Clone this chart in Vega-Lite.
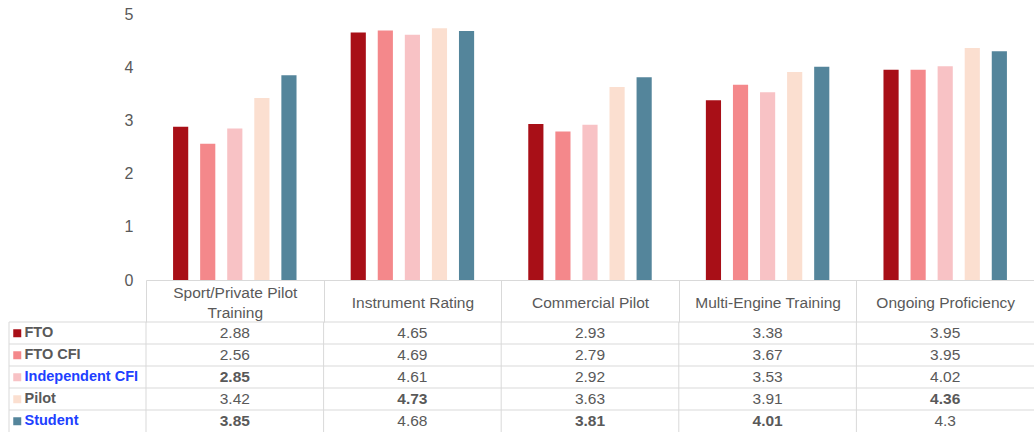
{
  "$schema": "https://vega.github.io/schema/vega-lite/v6.json",
  "padding": {"left": 8, "top": 6, "right": 0, "bottom": 0},
  "autosize": {"type": "pad"},
  "background": "white",
  "config": {"view": {"stroke": null}, "font": "Liberation Sans"},
  "data": {"values": [
    {"category": "Sport/Private Pilot Training", "series": "FTO", "score": 2.88},
    {"category": "Sport/Private Pilot Training", "series": "FTO CFI", "score": 2.56},
    {"category": "Sport/Private Pilot Training", "series": "Independent CFI", "score": 2.85},
    {"category": "Sport/Private Pilot Training", "series": "Pilot", "score": 3.42},
    {"category": "Sport/Private Pilot Training", "series": "Student", "score": 3.85},
    {"category": "Instrument Rating", "series": "FTO", "score": 4.65},
    {"category": "Instrument Rating", "series": "FTO CFI", "score": 4.69},
    {"category": "Instrument Rating", "series": "Independent CFI", "score": 4.61},
    {"category": "Instrument Rating", "series": "Pilot", "score": 4.73},
    {"category": "Instrument Rating", "series": "Student", "score": 4.68},
    {"category": "Commercial Pilot", "series": "FTO", "score": 2.93},
    {"category": "Commercial Pilot", "series": "FTO CFI", "score": 2.79},
    {"category": "Commercial Pilot", "series": "Independent CFI", "score": 2.92},
    {"category": "Commercial Pilot", "series": "Pilot", "score": 3.63},
    {"category": "Commercial Pilot", "series": "Student", "score": 3.81},
    {"category": "Multi-Engine Training", "series": "FTO", "score": 3.38},
    {"category": "Multi-Engine Training", "series": "FTO CFI", "score": 3.67},
    {"category": "Multi-Engine Training", "series": "Independent CFI", "score": 3.53},
    {"category": "Multi-Engine Training", "series": "Pilot", "score": 3.91},
    {"category": "Multi-Engine Training", "series": "Student", "score": 4.01},
    {"category": "Ongoing Proficiency", "series": "FTO", "score": 3.95},
    {"category": "Ongoing Proficiency", "series": "FTO CFI", "score": 3.95},
    {"category": "Ongoing Proficiency", "series": "Independent CFI", "score": 4.02},
    {"category": "Ongoing Proficiency", "series": "Pilot", "score": 4.36},
    {"category": "Ongoing Proficiency", "series": "Student", "score": 4.3}
  ]},
  "columns": 2,
  "spacing": {"row": 42, "column": 0},
  "align": "each",
  "bounds": "flush",
  "concat": [
    {
      "width": 137,
      "height": 266,
      "transform": [{"filter": "false"}],
      "mark": "point"
    },
    {
      "width": 888,
      "height": 266,
      "mark": {"type": "bar"},
      "encoding": {
        "x": {
          "field": "category", "type": "nominal",
          "sort": ["Sport/Private Pilot Training", "Instrument Rating", "Commercial Pilot", "Multi-Engine Training", "Ongoing Proficiency"],
          "scale": {"paddingInner": 0, "paddingOuter": 0},
          "axis": {
            "title": null, "labelAngle": 0, "domainColor": "#d9d9d9", "tickColor": "#d9d9d9",
            "tickBand": "extent", "tickSize": 42,
            "labelPadding": {"condition": {"test": "datum.value == 'Sport/Private Pilot Training'", "value": -30}, "value": -20},
            "labelBaseline": "middle",
            "labelFontSize": 15.5, "labelColor": "#595959", "labelLineHeight": 20, "labelLimit": 0,
            "labelOverlap": false, "labelBound": false,
            "labelExpr": "datum.label == 'Sport/Private Pilot Training' ? ['Sport/Private Pilot', 'Training'] : datum.label"
          }
        },
        "xOffset": {
          "field": "series", "type": "nominal",
          "sort": ["FTO", "FTO CFI", "Independent CFI", "Pilot", "Student"],
          "scale": {"paddingInner": 0.44, "paddingOuter": 1.04}
        },
        "y": {
          "field": "score", "type": "quantitative",
          "scale": {"domain": [0, 5]},
          "axis": {"title": null, "values": [0, 1, 2, 3, 4, 5], "grid": false, "domain": false, "ticks": false,
                   "labelPadding": 13, "labelFontSize": 16, "labelColor": "#595959"}
        },
        "color": {
          "field": "series", "type": "nominal",
          "scale": {
            "domain": ["FTO", "FTO CFI", "Independent CFI", "Pilot", "Student"],
            "range": ["#a80f17", "#f4888b", "#f8c2c5", "#fbdfd0", "#54859b"]
          },
          "legend": {
            "orient": "none", "legendX": 1, "legendY": 312, "title": null,
            "symbolType": "square", "symbolSize": 64, "symbolStrokeWidth": 0, "symbolOpacity": 1,
            "labelFontSize": 14.5, "labelFontWeight": "bold", "labelColor": "#595959", "labelOffset": 0,
            "rowPadding": 7, "padding": 0, "labelLimit": 0,
            "encode": {"labels": {"update": {"fill": {"signal": "datum.label === 'Independent CFI' || datum.label === 'Student' ? '#2040ff' : '#595959'"}}}}
          }
        }
      }
    },
    {
      "width": 137,
      "height": 110,
      "layer": [
        {
          "transform": [{"filter": "datum.category === 'Sport/Private Pilot Training'"}],
          "mark": {"type": "rule", "color": "#d9d9d9", "strokeWidth": 1},
          "encoding": {
            "y": {"field": "series", "type": "nominal", "sort": ["FTO", "FTO CFI", "Independent CFI", "Pilot", "Student"],
                  "bandPosition": 0, "scale": {"paddingInner": 0, "paddingOuter": 0}, "axis": null}
          }
        },
        {
          "transform": [{"filter": "datum.category === 'Sport/Private Pilot Training' && datum.series === 'FTO'"}],
          "mark": {"type": "rule", "color": "#d9d9d9", "strokeWidth": 1},
          "encoding": {
            "x": {"datum": 0, "type": "quantitative", "scale": {"domain": [0, 1]}, "axis": null}
          }
        }
      ]
    },
    {
      "width": 888,
      "height": 110,
      "layer": [
        {
          "transform": [{"filter": "datum.category === 'Sport/Private Pilot Training'"}],
          "mark": {"type": "rule", "color": "#d9d9d9", "strokeWidth": 1},
          "encoding": {
            "y": {"field": "series", "type": "nominal", "sort": ["FTO", "FTO CFI", "Independent CFI", "Pilot", "Student"],
                  "bandPosition": 0, "scale": {"paddingInner": 0, "paddingOuter": 0}, "axis": null}
          }
        },
        {
          "transform": [{"filter": "datum.series === 'FTO'"}],
          "mark": {"type": "rule", "color": "#d9d9d9", "strokeWidth": 1},
          "encoding": {
            "x": {"field": "category", "type": "nominal",
                  "sort": ["Sport/Private Pilot Training", "Instrument Rating", "Commercial Pilot", "Multi-Engine Training", "Ongoing Proficiency"],
                  "bandPosition": 0, "scale": {"paddingInner": 0, "paddingOuter": 0}, "axis": null}
          }
        },
        {
          "transform": [{"joinaggregate": [{"op": "max", "field": "score", "as": "colMax"}], "groupby": ["category"]}],
          "mark": {
            "type": "text", "fontSize": 15.5, "color": "#595959", "baseline": "middle", "align": "center",
            "fontWeight": {"expr": "(datum.score === datum.colMax || (datum.series === 'Independent CFI' && datum.category === 'Sport/Private Pilot Training')) ? 'bold' : 'normal'"}
          },
          "encoding": {
            "x": {"field": "category", "type": "nominal",
                  "sort": ["Sport/Private Pilot Training", "Instrument Rating", "Commercial Pilot", "Multi-Engine Training", "Ongoing Proficiency"],
                  "scale": {"paddingInner": 0, "paddingOuter": 0}, "axis": null},
            "y": {"field": "series", "type": "nominal", "sort": ["FTO", "FTO CFI", "Independent CFI", "Pilot", "Student"],
                  "scale": {"paddingInner": 0, "paddingOuter": 0}, "axis": null},
            "text": {"field": "score", "type": "quantitative"}
          }
        }
      ]
    }
  ]
}
